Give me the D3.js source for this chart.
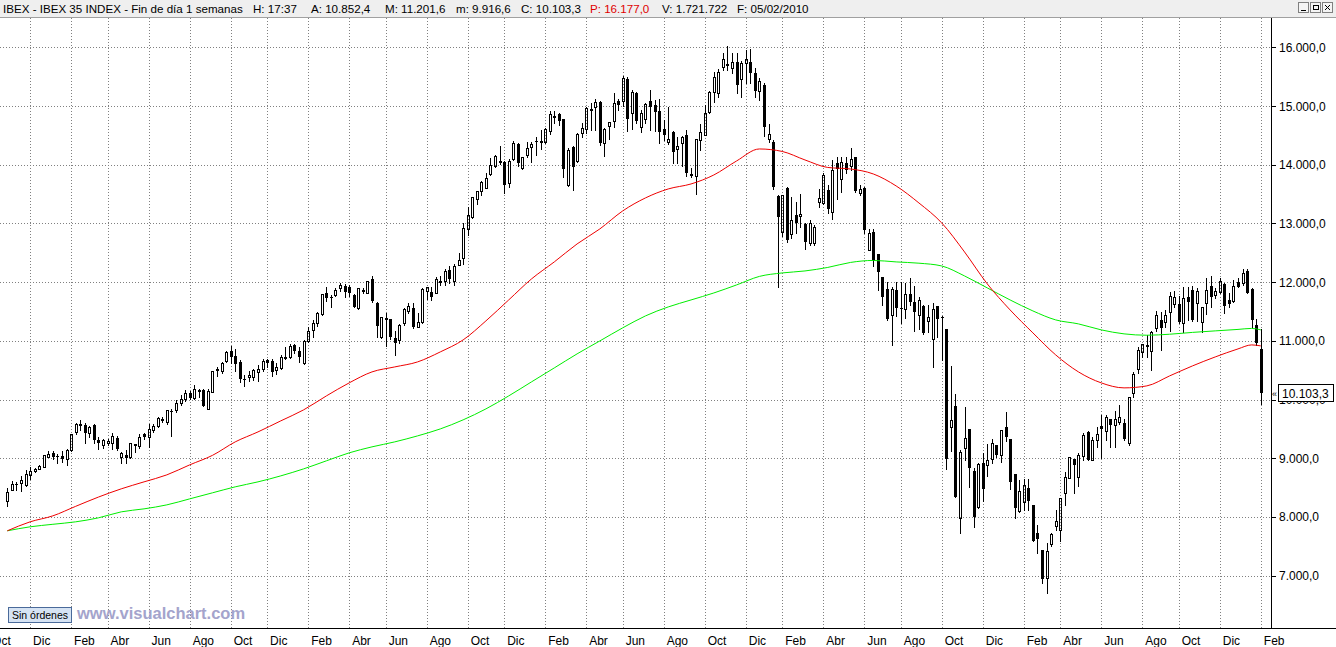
<!DOCTYPE html>
<html><head><meta charset="utf-8">
<script src="https://cdn.jsdelivr.net/npm/d3@7"></script>
<style>
body{margin:0;background:#fff;overflow:hidden;}
svg text{font-family:"Liberation Sans",Arial,sans-serif;}
</style></head><body>
<svg id="c" width="1336" height="647"></svg>
<script>
// ---- weekly OHLC, IBEX 35, weeks ending Fridays 29/10/2004 .. 05/02/2010 ----
const openV=[8279,8455,8557,8585,8540,8722,8778,8824,8858,9028,9085,9045,9034,8983,9147,9448,9568,9562,9431,9573,
9312,9221,9255,9255,9346,9028,9062,9017,9244,9210,9409,9358,9477,9556,9653,9613,9812,9818,9937,10010,
10107,10033,10164,10164,9840,10136,10515,10493,10657,10827,10742,10634,10356,10379,10391,10475,10515,10674,10657,10510,
10532,10720,10720,10924,10827,10629,10992,11185,11310,11460,11810,11753,11787,11895,11935,11924,11782,11555,11861,11822,
12054,11651,11072,11390,11367,11055,11015,11299,11515,11555,11242,11316,11850,11833,11821,12020,12026,12207,12026,12287,
12412,12911,13104,13422,13558,13604,13837,13984,14064,14047,13683,14092,14353,13939,14160,14296,14410,14399,14382,14580,
14830,14864,14779,13661,14296,14069,14546,14603,14938,14989,15069,14365,14660,14751,15080,15080,15455,14887,15216,14648,
14773,15080,15017,14915,14603,14381,14557,14262,14364,14506,13836,13808,14421,14506,14892,15244,15227,15670,15698,15647,
15749,15454,15738,15749,15560,15250,15350,14430,14388,13468,12860,13599,12815,13139,13128,12991,12662,12662,13360,13343,
13570,13195,14024,13752,14024,13979,14126,13513,13599,12548,12850,12480,12094,11878,11435,11867,11566,11537,11798,11662,
11435,11594,11339,11032,11594,11412,11202,9539,9891,7978,9170,9494,8790,8165,8915,8881,8983,9227,9057,9528,
9329,8733,8092,8262,8489,8205,7723,7439,6956,7535,7847,7779,8415,8671,8983,8688,9029,9449,8972,9312,
9551,9471,9665,9562,9619,9608,9267,10118,10527,10805,10930,10833,11220,11356,11316,11487,11623,11623,11311,11753,
11867,11640,11328,11640,11935,11782,11827,11969,11697,11685,12003,11981,12196,11878,11271,10852.4];
const highV=[8500,8614,8603,8699,8801,8847,8835,8892,9051,9131,9131,9074,9131,9153,9420,9596,9653,9608,9550,9585,
9369,9335,9323,9437,9380,9114,9142,9267,9244,9409,9426,9585,9585,9710,9710,9823,9835,9994,10084,10164,
10153,10249,10175,10175,10181,10487,10561,10640,10827,10913,10861,10674,10419,10487,10527,10589,10686,10697,10686,10617,
10754,10901,10947,10947,10890,11015,11242,11355,11497,11805,11912,11776,11901,11981,11969,11958,11793,11907,11895,12026,
12111,11668,11402,11470,11379,11174,11282,11555,11640,11651,11470,11895,11924,11912,12094,12105,12230,12275,12304,12503,
13002,13275,13456,13558,13729,13865,14121,14172,14319,14070,14098,14399,14365,14138,14387,14393,14467,14592,14620,14921,
14915,14876,14779,14279,14319,14535,14717,14978,15057,15126,15080,14620,14728,15216,15114,15517,15500,15273,15239,14932,
15057,15273,15102,15114,14762,14989,14569,14478,14489,14591,13938,14444,14693,15017,15261,15585,15624,15897,16022,15897,
15908,15761,15954,15965,15650,15480,15400,14700,14422,13479,13485,13616,13457,13371,13502,13003,13060,12974,13582,13854,
13655,14081,14138,14126,14126,14280,14138,13655,13616,12900,12900,12480,12094,12008,11923,12008,12008,11980,12065,11940,
11742,11605,11611,11639,11594,11424,11202,10572,10095,9142,9880,9494,8829,8915,9085,9244,9323,9227,9482,9795,
9329,8733,8631,8642,8642,8205,7864,7439,7552,7734,8120,8319,8773,9017,8983,9097,9437,9460,9369,9528,
9732,9732,9665,9801,9914,9665,10050,10470,10890,10947,11100,11174,11515,11498,11526,11833,11855,11770,11912,11924,
11935,11895,11583,12066,12105,11895,12066,11980,11810,12037,12066,12219,12219,11895,11367,11201.6];
const lowV=[8194,8450,8461,8438,8529,8642,8767,8813,8847,9017,8983,8915,8937,8892,9131,9409,9482,9255,9363,9255,
9153,9181,9227,9153,9142,8926,8926,9006,9114,9182,9324,9199,9454,9539,9624,9579,9386,9795,9908,9971,
10005,10011,10039,9891,9835,10124,10402,10447,10634,10629,10487,10294,10237,10317,10328,10317,10487,10561,10402,10441,
10515,10686,10703,10799,10646,10600,10975,11072,11259,11445,11674,11572,11765,11856,11742,11765,11572,11538,11810,11810,
11668,11072,11044,10913,11027,10760,10970,11271,11470,11214,11231,11299,11710,11696,11810,11958,11958,11980,11958,12287,
12310,12798,13093,13331,13490,13604,13825,13967,14013,13524,13627,14081,13979,13927,14126,14041,14160,14263,14365,14524,
14705,14683,13797,13638,13570,14052,14478,14546,14592,14592,14331,14155,14433,14637,14932,15001,14580,14609,14705,14563,
14705,14592,14580,14364,14421,14353,14035,14035,13978,13808,13785,13501,14251,14506,14875,15074,15159,15613,15613,15556,
15216,15148,15397,15397,15150,15100,14490,14380,13590,11924,12787,12690,12747,12832,12946,12560,12634,12634,13286,13332,
13173,13070,13411,13542,13854,13911,13542,13485,12832,12548,12275,11870,11611,11356,10924,11424,11310,11384,11611,11174,
11197,11117,11157,10561,11072,10674,8824,9130,8346,7734,8971,8517,7825,8148,8279,8699,8915,9028,8943,9301,
8478,7978,8080,8120,8120,7592,7382,6871,6701,7507,7779,7581,8205,8659,8404,8518,8972,8972,8972,9188,
8999,9312,9188,9199,9585,9312,9227,10050,10459,10731,10720,10504,11163,10845,11242,11174,11583,11299,11157,11356,
11345,11345,11157,11458,11572,11725,11810,11470,11583,11668,11912,11952,11810,11214,10930,9916.6];
const closeV=[8421,8557,8540,8631,8733,8784,8824,8869,9051,9074,9023,9034,8994,9142,9420,9585,9585,9426,9533,9318,
9255,9312,9295,9380,9153,9085,9000,9255,9215,9358,9358,9505,9556,9687,9664,9823,9783,9937,10010,10113,
10033,10175,10124,9897,10153,10487,10527,10617,10805,10720,10612,10356,10328,10413,10504,10521,10651,10629,10475,10555,
10720,10691,10913,10833,10731,11004,11168,11299,11480,11790,11736,11742,11861,11947,11833,11810,11583,11895,11867,12015,
11685,11260,11402,11356,11072,10959,11265,11538,11595,11242,11316,11878,11912,11753,12048,12026,12190,12060,12281,12378,
12923,13138,13445,13547,13706,13774,13996,14149,14070,13649,14070,14365,14036,14126,14285,14353,14393,14410,14603,14864,
14802,14739,13933,14251,13956,14524,14620,14961,14950,15069,14376,14603,14728,15058,15023,15472,14785,15239,14739,14876,
15028,14989,14904,14563,14506,14438,14217,14319,14466,13853,13848,14432,14563,14875,15244,15500,15585,15800,15710,15749,
15363,15738,15795,15568,15250,15420,14650,14530,13616,13105,13479,12719,13059,13003,13156,12679,13003,12946,13428,13820,
13252,13911,13922,14047,13911,14104,13559,13582,12889,12832,12378,12180,11753,11367,11878,11566,11549,11798,11668,11486,
11696,11128,11401,11543,11367,11390,8983,9652,8346,9113,9340,8830,7995,8903,8483,8971,9267,9057,9482,9369,
8603,8160,8444,8540,8273,7592,7620,6939,7422,7711,7927,8319,8688,9017,8881,9057,9398,8972,9312,9415,
9505,9699,9573,9676,9699,9335,10050,10436,10845,10941,10890,11157,11441,11214,11441,11765,11753,11316,11737,11663,
11356,11856,11572,11867,11742,11850,12026,11600,11628,11935,11924,12151,11822,11356,10958,10103.3];

// ---- moving averages (red, green), read at these week numbers ----
const maWeek=[0,5,10,15,20,25,30,35,40,45,50,55,60,65,70,75,80,85,90,95,100,105,110,115,120,125,130,135,140,145,150,155,160,165,170,175,180,185,190,195,200,205,210,215,220,225,230,235,240,245,250,255,260,265,270,273,275];
const redMA=[7763,7916,8018,8180,8338,8478,8597,8716,8886,9048,9278,9448,9636,9823,10061,10283,10470,10555,10640,10811,11015,11339,11696,12054,12344,12650,12906,13212,13434,13587,13672,13825,14064,14268,14226,14081,13953,13927,13842,13638,13348,13008,12514,11969,11526,11135,10760,10470,10283,10198,10232,10402,10572,10725,10862,10930,10913];
const greenMA=[7763,7831,7874,7916,7984,8086,8137,8205,8307,8410,8512,8597,8699,8818,8955,9091,9193,9278,9380,9499,9653,9840,10061,10300,10538,10777,10998,11220,11424,11577,11696,11815,11952,12097,12156,12190,12250,12335,12369,12344,12322,12275,12105,11901,11696,11509,11356,11288,11186,11118,11095,11112,11143,11169,11194,11211,11186];

// ---- axis labels ----
const priceTicks=[7000,8000,9000,10000,11000,12000,13000,14000,15000,16000];
const monthShort=["Ene","Feb","Mar","Abr","May","Jun","Jul","Ago","Sep","Oct","Nov","Dic"];
const headerParts=[
 {t:"IBEX - IBEX 35 INDEX - Fin de día 1 semanas",x:3,c:"#000"},
 {t:"H: 17:37",x:253,c:"#000"},
 {t:"A: 10.852,4",x:311,c:"#000"},
 {t:"M: 11.201,6",x:385,c:"#000"},
 {t:"m: 9.916,6",x:456,c:"#000"},
 {t:"C: 10.103,3",x:521,c:"#000"},
 {t:"P: 16.177,0",x:590,c:"#e00000"},
 {t:"V: 1.721.722",x:662,c:"#000"},
 {t:"F: 05/02/2010",x:737,c:"#000"}];
const lastClose=10103.3;

// ---- build ----
const svg=d3.select("#c");
const plotL=0, plotR=1271, plotT=18, plotB=628;
const weeks=d3.timeFriday.range(new Date(2004,9,29), new Date(2010,1,6));
const data=weeks.map((d,i)=>({d,o:openV[i],h:highV[i],l:lowV[i],c:closeV[i]}));
const x=d3.scaleTime().domain([weeks[0],weeks[weeks.length-1]]).range([7.3,1260.8]);
const y=d3.scaleLinear().domain([7000,16000]).range([575.6,47.3]);
const fmt=d3.formatLocale({decimal:",",thousands:".",grouping:[3],currency:["","€"]}).format(",.1f");

svg.append("rect").attr("width",1336).attr("height",647).attr("fill","#fff");

// header
svg.append("rect").attr("x",0).attr("y",0).attr("width",1336).attr("height",17).attr("fill","#efefef");
svg.append("line").attr("x1",0).attr("x2",1336).attr("y1",17.5).attr("y2",17.5).attr("stroke","#a0a0a0");
svg.append("g").selectAll("text").data(headerParts).join("text")
  .attr("x",d=>d.x).attr("y",12.5).attr("font-size",11.6).attr("fill",d=>d.c).text(d=>d.t);
// window buttons
const btn=svg.append("g");
[1298,1310,1322].forEach((bx,k)=>{
  btn.append("rect").attr("x",bx+0.5).attr("y",2.5).attr("width",10).attr("height",10).attr("fill","#f4f4f4").attr("stroke","#808080");
});
btn.append("line").attr("x1",1301).attr("x2",1306).attr("y1",10.5).attr("y2",10.5).attr("stroke","#000");
btn.append("rect").attr("x",1313.5).attr("y",5.5).attr("width",5).attr("height",4).attr("fill","none").attr("stroke","#000");
btn.append("path").attr("d","M1325,5L1330,10M1330,5L1325,10").attr("stroke","#000");

// gridlines
const gridG=svg.append("g").attr("stroke","#808080").attr("stroke-dasharray","1,2");
gridG.selectAll("line.h").data(priceTicks).join("line").attr("class","h")
  .attr("x1",plotL).attr("x2",plotR).attr("y1",d=>Math.round(y(d))+0.5).attr("y2",d=>Math.round(y(d))+0.5);
const monthStarts=d3.timeMonth.range(new Date(2004,9,1),new Date(2010,2,1),2);
const tickWeeks=monthStarts.map(m=>({d:d3.timeFriday.ceil(m),lab:monthShort[m.getMonth()]}));
gridG.selectAll("line.v").data(tickWeeks).join("line").attr("class","v")
  .attr("x1",d=>Math.round(x(d.d))+0.5).attr("x2",d=>Math.round(x(d.d))+0.5).attr("y1",plotT).attr("y2",plotB);

// candles
const cg=svg.append("g");
data.forEach(d=>{
  const cx=Math.round(x(d.d));
  const top=Math.round(y(Math.max(d.o,d.c))), bot=Math.round(y(Math.min(d.o,d.c)));
  const yh=Math.round(y(d.h)), yl=Math.round(y(d.l));
  if(d.c>=d.o){
    cg.append("line").attr("x1",cx+0.5).attr("x2",cx+0.5).attr("y1",yh).attr("y2",top).attr("stroke","#000");
    cg.append("line").attr("x1",cx+0.5).attr("x2",cx+0.5).attr("y1",bot).attr("y2",yl+1).attr("stroke","#000");
    cg.append("rect").attr("x",cx-0.5).attr("y",top+0.5).attr("width",2).attr("height",Math.max(bot-top,1))
      .attr("fill","none").attr("stroke","#000");
  }else{
    cg.append("line").attr("x1",cx+0.5).attr("x2",cx+0.5).attr("y1",yh).attr("y2",yl+1).attr("stroke","#000");
    cg.append("rect").attr("x",cx-1).attr("y",top).attr("width",3).attr("height",Math.max(bot-top,1)).attr("fill","#000");
  }
});

// moving averages
const maLine=vals=>d3.line().x((w,i)=>x(weeks[w])).y((w,i)=>y(vals[i])).curve(d3.curveMonotoneX)(maWeek);
svg.append("path").attr("d",maLine(greenMA)).attr("fill","none").attr("stroke","#00ee00").attr("stroke-width",1);
svg.append("path").attr("d",maLine(redMA)).attr("fill","none").attr("stroke","#ee0000").attr("stroke-width",1);

// right axis
svg.append("line").attr("x1",plotR+0.5).attr("x2",plotR+0.5).attr("y1",plotT).attr("y2",plotB).attr("stroke","#000");
const ax=svg.append("g");
ax.selectAll("line").data(priceTicks).join("line")
  .attr("x1",plotR).attr("x2",plotR+5).attr("y1",d=>Math.round(y(d))+0.5).attr("y2",d=>Math.round(y(d))+0.5).attr("stroke","#000");
ax.selectAll("text").data(priceTicks).join("text")
  .attr("x",1279).attr("y",d=>y(d)+4.5).attr("font-size",12).attr("fill","#000").text(d=>fmt(d));

// last value box
const ly=Math.round(y(lastClose));
svg.append("rect").attr("x",1278.5).attr("y",ly-8.5).attr("width",55).attr("height",17).attr("fill","#fff").attr("stroke","#000");
svg.append("text").attr("x",1282).attr("y",ly+4.5).attr("font-size",12).text(fmt(lastClose));
svg.append("text").attr("x",1272).attr("y",ly+4).attr("font-size",9).text("«");

// bottom axis
svg.append("line").attr("x1",0).attr("x2",1336).attr("y1",plotB+0.5).attr("y2",plotB+0.5).attr("stroke","#000");
svg.append("g").selectAll("text").data(tickWeeks).join("text")
  .attr("x",d=>x(d.d)+3).attr("y",645).attr("font-size",12).text(d=>d.lab);

// bottom-left widgets
svg.append("rect").attr("x",8.5).attr("y",607.5).attr("width",63).attr("height",15).attr("fill","#d6e3f3").attr("stroke","#4a6a9a");
svg.append("text").attr("x",12).attr("y",619).attr("font-size",10.5).text("Sin órdenes");
svg.append("text").attr("x",77).attr("y",619).attr("font-size",16.5).attr("font-weight","bold").attr("fill","#a4a4cc").text("www.visualchart.com");
</script></body></html>
